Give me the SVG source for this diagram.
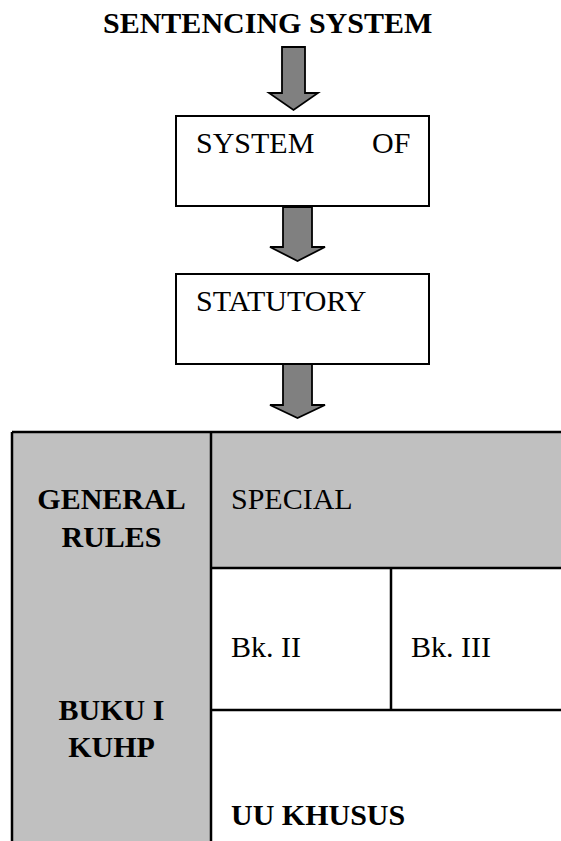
<svg xmlns="http://www.w3.org/2000/svg" width="561" height="841" viewBox="0 0 561 841">
<style>
text{font-family:"Liberation Serif","Times New Roman",serif;font-size:30px;fill:#000}
.b{font-weight:bold}
.box{fill:#fff;stroke:#000;stroke-width:2}
.arrow{fill:#808080;stroke:#000;stroke-width:1.8;stroke-linejoin:miter}
.gray{fill:#c0c0c0}
.line{stroke:#000;stroke-width:2.5;fill:none}
</style>
<rect width="561" height="841" fill="#fff"/>
<g id="title"><text class="b" x="103" y="33">SENTENCING SYSTEM</text></g>
<g id="connectors">
<polygon class="arrow" points="282,47 305,47 305,93 318,93 293.5,110 269,93 282,93"/>
<polygon class="arrow" points="283,207 312,207 312,247 325,247 297.5,261 270,247 283,247"/>
<polygon class="arrow" points="283,364 312,364 312,405 325,405 297.5,418 270,405 283,405"/>
</g>
<g id="system-of">
<rect class="box" x="176" y="116" width="253" height="90"/>
<text x="196" y="153">SYSTEM</text>
<text x="372" y="153">OF</text>
</g>
<g id="statutory">
<rect class="box" x="176" y="274" width="253" height="90"/>
<text x="196" y="311">STATUTORY</text>
</g>
<g id="table">
<rect class="gray" x="12" y="432" width="199" height="409"/>
<rect class="gray" x="211" y="432" width="350" height="136"/>
<path class="line" d="M12,432 H561 M12,432 V841 M211,432 V841 M211,568 H561 M391,568 V710 M211,710 H561"/>
</g>
<g id="general-rules">
<text class="b" x="111.5" y="509" text-anchor="middle">GENERAL</text>
<text class="b" x="111.5" y="547" text-anchor="middle">RULES</text>
</g>
<g id="buku-i">
<text class="b" x="111.5" y="720" text-anchor="middle">BUKU I</text>
<text class="b" x="111.5" y="757" text-anchor="middle">KUHP</text>
</g>
<g id="special"><text x="231" y="509">SPECIAL</text></g>
<g id="bk-ii"><text x="231" y="657">Bk. II</text></g>
<g id="bk-iii"><text x="411" y="657">Bk. III</text></g>
<g id="uu-khusus"><text class="b" x="231" y="825">UU KHUSUS</text></g>
</svg>
